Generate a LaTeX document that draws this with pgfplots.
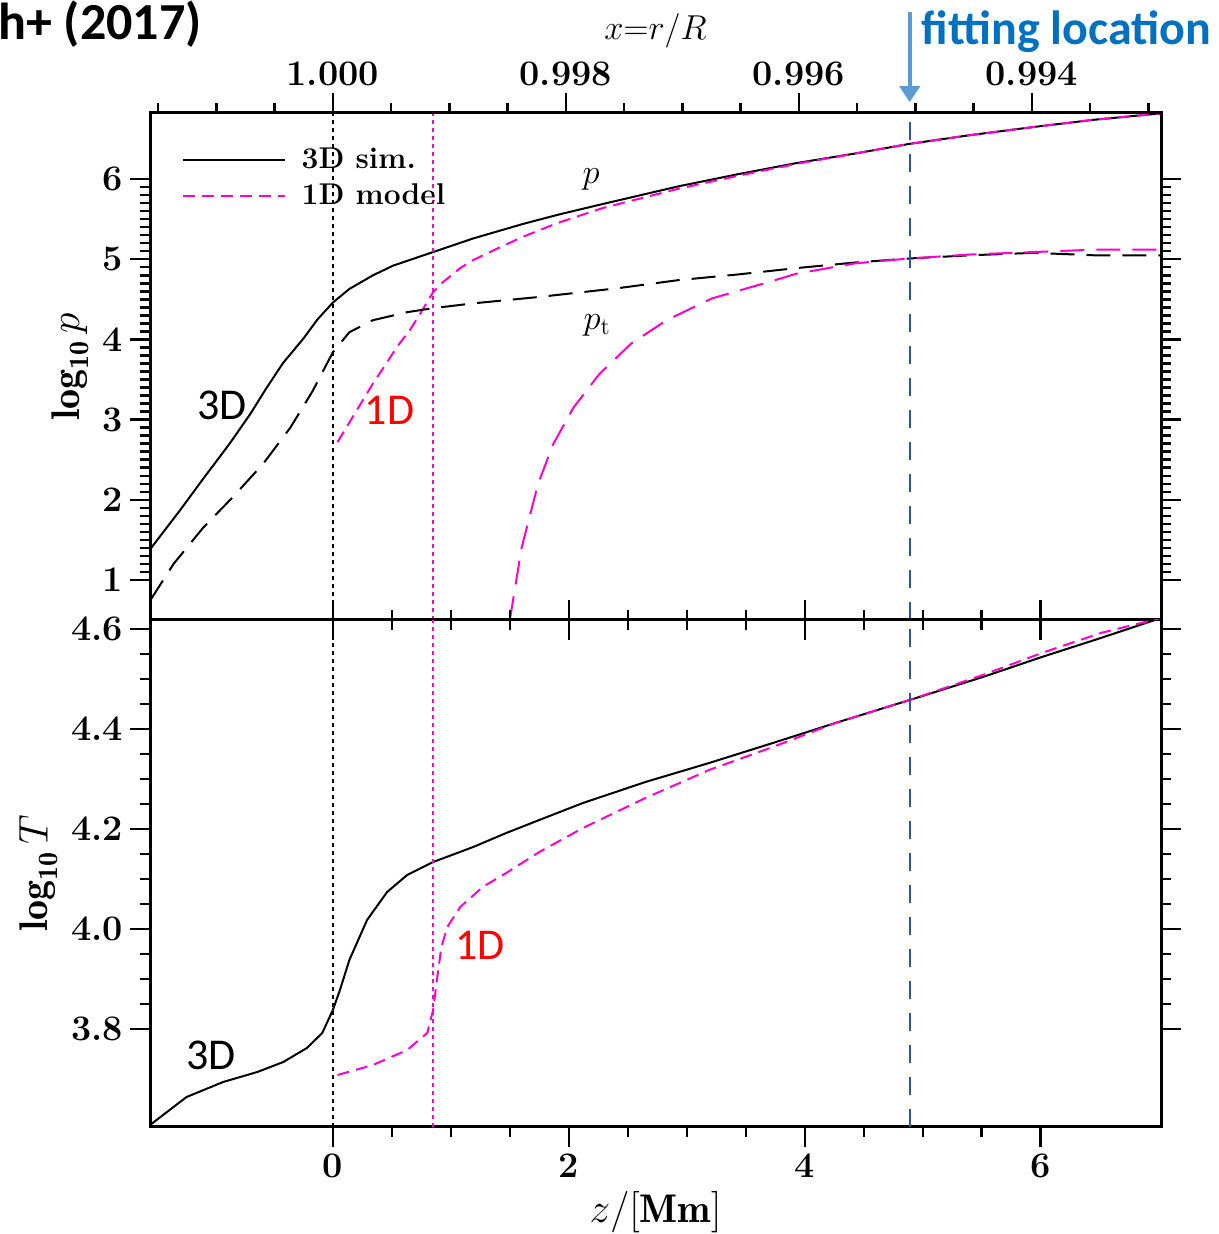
\documentclass[border=0pt]{standalone}
\usepackage{pgfplots}
\pgfplotsset{compat=1.18}
\usepackage{fontspec}
\newfontfamily\carl{Carlito}
\usetikzlibrary{arrows.meta}
\definecolor{mag}{RGB}{255,0,204}
\definecolor{fitblue}{RGB}{0,112,192}
\definecolor{arrowblue}{RGB}{91,155,213}
\definecolor{vblue}{RGB}{48,80,160}

\pgfplotstableread{
x y
-1.55 1.38
-1.30 1.86
-1.11 2.24
-0.87 2.71
-0.70 3.07
-0.56 3.40
-0.42 3.71
-0.25 4.01
-0.13 4.25
0.00 4.46
0.14 4.63
0.34 4.80
0.51 4.92
0.71 5.02
0.85 5.09
1.19 5.26
1.61 5.44
1.92 5.56
2.29 5.69
2.93 5.91
3.43 6.06
3.93 6.20
4.43 6.32
4.89 6.44
5.41 6.55
5.94 6.65
6.45 6.74
7.02 6.82
}\pthreeD
\pgfplotstableread{
x y
0.04 2.72
0.20 3.11
0.34 3.45
0.44 3.67
0.54 3.90
0.65 4.11
0.74 4.32
0.85 4.59
0.93 4.71
1.08 4.89
1.19 4.99
1.36 5.11
1.61 5.28
1.90 5.45
2.29 5.64
2.93 5.88
3.43 6.04
3.93 6.19
4.43 6.32
4.89 6.44
5.41 6.55
5.94 6.65
6.45 6.74
7.02 6.82
}\poneD
\pgfplotstableread{
x y
-1.55 0.74
-1.35 1.20
-1.10 1.65
-0.85 2.03
-0.59 2.45
-0.36 2.90
-0.17 3.36
0.00 3.84
0.14 4.09
0.34 4.24
0.63 4.34
0.85 4.39
1.19 4.45
1.75 4.53
2.42 4.64
2.93 4.74
3.43 4.81
3.93 4.89
4.43 4.96
4.89 5.01
5.41 5.05
5.94 5.08
6.45 5.05
7.02 5.05
}\ptthreeD
\pgfplotstableread{
x y
1.50 0.50
1.60 1.40
1.74 2.20
1.87 2.70
2.04 3.15
2.26 3.57
2.53 3.95
2.83 4.24
3.21 4.51
3.75 4.74
3.93 4.82
4.43 4.95
4.89 5.01
5.41 5.06
5.94 5.09
6.45 5.12
7.02 5.12
}\ptoneD
\pgfplotstableread{
x y
-1.55 3.608
-1.24 3.664
-0.93 3.694
-0.64 3.714
-0.42 3.734
-0.22 3.762
-0.09 3.792
0.00 3.838
0.06 3.878
0.14 3.938
0.29 4.018
0.46 4.074
0.63 4.108
0.85 4.134
1.19 4.164
1.47 4.192
1.75 4.218
2.12 4.252
2.65 4.294
3.19 4.332
3.73 4.372
4.26 4.412
4.89 4.458
5.51 4.504
6.01 4.544
6.51 4.582
7.02 4.622
}\TthreeD
\pgfplotstableread{
x y
0.04 3.708
0.34 3.728
0.63 3.758
0.80 3.792
0.85 3.838
0.89 3.912
0.92 3.964
0.97 4.004
1.08 4.044
1.27 4.084
1.47 4.112
1.75 4.154
2.12 4.202
2.65 4.262
3.19 4.318
3.73 4.364
4.26 4.412
4.89 4.458
5.51 4.508
6.01 4.552
6.51 4.592
7.02 4.622
}\ToneD

\pgfplotsset{
  panel/.style={
    scale only axis, width=505.5pt, height=253.5pt,
    xmin=-1.55, xmax=7.02,
    axis line style={line width=1.5pt},
    every tick/.style={line width=1.2pt, black},
    tick align=outside,
    major tick length=10pt, minor tick length=5pt,
    tick label style={font=\bfseries\fontsize{18}{20}\selectfont},
    label style={font=\fontsize{20}{22}\selectfont},
    /pgf/number format/assume math mode=true,
    xtick={0,2,4,6}, minor x tick num=3,
  },
  curve/.style={line width=1pt},
}

\begin{document}
\begin{tikzpicture}
% top panel
\begin{axis}[panel, at={(75pt,307pt)}, anchor=south west,
  ymin=0.5, ymax=6.825, ytick={1,2,3,4,5,6}, minor y tick num=9,
  xtick pos=bottom, xticklabels={},
  ylabel={$\mathbf{log}_{\mathbf{10}}\,p$},
  clip=false,
  legend style={at={(0.025,0.947)}, anchor=north west, draw=none, fill=none,
    font=\bfseries\fontsize{15}{17}\selectfont, row sep=2pt,
    /tikz/every even column/.append style={column sep=4pt}},
  legend cell align=left,
  legend image code/.code={\draw[#1] (0pt,0pt) -- (51pt,0pt);},
]
\addplot[curve, black] table {\pthreeD};
\addlegendentry{\hspace{6pt}3D sim.}
\addplot[curve, mag, dash pattern=on 6pt off 3.5pt] table {\poneD};
\addlegendentry{\hspace{6pt}1D model}
\addplot[curve, black, dash pattern=on 12pt off 6pt, forget plot] table {\ptthreeD};
\addplot[curve, mag, dash pattern=on 12pt off 6pt, forget plot] table {\ptoneD};
\addplot[line width=1pt, black, dash pattern=on 2pt off 2pt, forget plot] coordinates {(0,0.5) (0,6.825)};
\addplot[line width=1pt, mag, dash pattern=on 2pt off 2pt, forget plot] coordinates {(0.847,0.5) (0.847,6.825)};
\addplot[line width=0.9pt, vblue, dash pattern=on 9pt off 7pt, forget plot] coordinates {(4.89,0.5) (4.89,6.825)};
\node[font=\fontsize{17}{19}\selectfont] at (axis cs:2.19,5.99) {$p$};
\node[font=\fontsize{17}{19}\selectfont] at (axis cs:2.24,4.175) {$p_{\mathrm{t}}$};
\node[font=\carl\fontsize{22}{24}\selectfont] at (axis cs:-0.94,3.18) {3D};
\node[font=\carl\fontsize{22}{24}\selectfont, text=red] at (axis cs:0.48,3.11) {1D};
\draw[arrowblue, line width=2.2pt, -{Triangle[width=10pt,length=8pt]}] (axis cs:4.89,8.09) -- (axis cs:4.89,6.96);
\node[anchor=west, inner sep=0pt, text=fitblue, font=\carl\bfseries\fontsize{24}{26}\selectfont] at (axis cs:4.99,7.84) {fitting location};
\end{axis}
% top r/R axis
\begin{axis}[panel, at={(75pt,307pt)}, anchor=south west,
  ymin=0, ymax=1, axis x line*=top, axis y line=none,
  xtick={0,1.975,3.95,5.925}, xticklabels={1.000,0.998,0.996,0.994},
  minor xtick={-1.481,-0.988,-0.494,0.494,0.988,1.481,2.469,2.963,3.456,4.444,4.938,5.431,6.419,6.913},
  xlabel={$x{=}r/R$},
  xlabel style={font=\fontsize{18}{20}\selectfont},
]
\end{axis}
% bottom panel
\begin{axis}[panel, at={(75pt,53.5pt)}, anchor=south west,
  ymin=3.604, ymax=4.618, ytick={3.8,4.0,4.2,4.4,4.6}, minor y tick num=3,
  yticklabel style={/pgf/number format/.cd, fixed, fixed zerofill, precision=1},
  xlabel={$z/[\mathbf{Mm}]$},
  ylabel={$\mathbf{log}_{\mathbf{10}}\,T$},
]
\addplot[curve, black] table {\TthreeD};
\addplot[curve, mag, dash pattern=on 6pt off 3.5pt] table {\ToneD};
\addplot[line width=1pt, black, dash pattern=on 2pt off 2pt] coordinates {(0,3.604) (0,4.618)};
\addplot[line width=1pt, mag, dash pattern=on 2pt off 2pt] coordinates {(0.847,3.604) (0.847,4.618)};
\addplot[line width=0.9pt, vblue, dash pattern=on 9pt off 7pt] coordinates {(4.89,3.604) (4.89,4.618)};
\node[font=\carl\fontsize{22}{24}\selectfont] at (axis cs:-1.03,3.748) {3D};
\node[font=\carl\fontsize{22}{24}\selectfont, text=red] at (axis cs:1.25,3.968) {1D};
\end{axis}
\node[anchor=west, inner sep=0pt, font=\carl\bfseries\fontsize{26}{28}\selectfont] at (-1pt,605pt) {h+ (2017)};
\pgfresetboundingbox
\path[use as bounding box] (0,0) rectangle (609pt,617pt);
\end{tikzpicture}
\end{document}
